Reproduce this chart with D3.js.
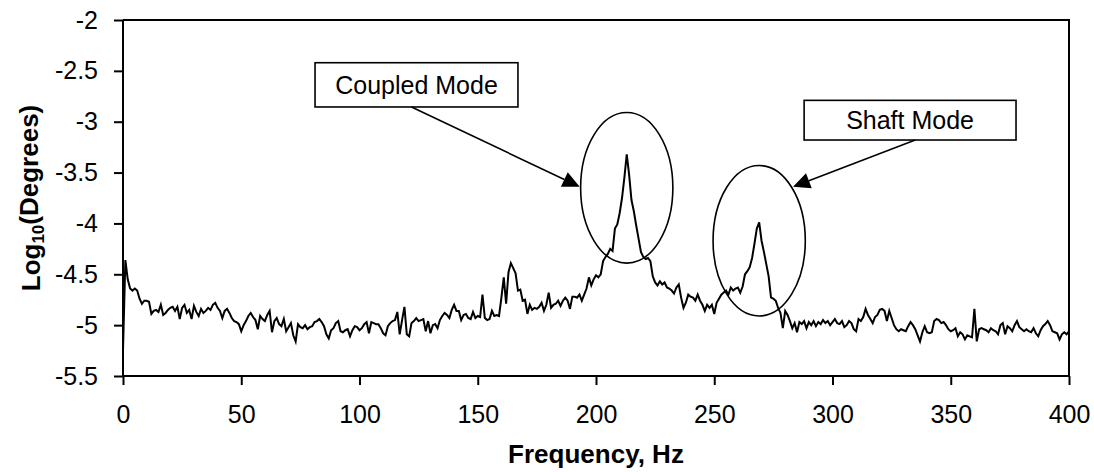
<!DOCTYPE html>
<html>
<head>
<meta charset="utf-8">
<script src="https://cdn.jsdelivr.net/npm/d3@7"></script>
<style>
  html, body { margin: 0; padding: 0; background: #fff; }
  svg text { font-family: "Liberation Sans", Arial, sans-serif; fill: #000; }
</style>
</head>
<body>
<svg id="chart" width="1094" height="472"></svg>
<script>
// Tick values for both axes
const xTickValues = [0, 50, 100, 150, 200, 250, 300, 350, 400];
const yTickValues = [-2, -2.5, -3, -3.5, -4, -4.5, -5, -5.5];

// Spectrum: log10 of angular amplitude (degrees), one sample per Hz from 0 to 400 Hz
const logDegrees = [
  -5.25, -4.36, -4.55, -4.64, -4.66, -4.64, -4.66, -4.74, -4.79, -4.76,
  -4.76, -4.77, -4.89, -4.86, -4.85, -4.87, -4.80, -4.90, -4.88, -4.85,
  -4.83, -4.82, -4.86, -4.82, -4.94, -4.83, -4.80, -4.88, -4.85, -4.94,
  -4.81, -4.87, -4.91, -4.84, -4.88, -4.86, -4.83, -4.85, -4.80, -4.78,
  -4.83, -4.86, -4.93, -4.86, -4.84, -4.88, -4.93, -4.96, -4.97, -4.99,
  -5.06, -5.00, -4.96, -4.91, -4.88, -4.92, -4.95, -5.04, -4.91, -4.94,
  -4.96, -4.90, -4.86, -5.07, -4.96, -4.93, -4.99, -5.01, -4.94, -5.06,
  -5.02, -4.98, -5.10, -5.16, -4.99, -5.02, -5.03, -5.00, -5.04, -5.02,
  -5.01, -4.97, -4.96, -4.94, -4.97, -5.01, -5.09, -5.13, -5.05, -5.03,
  -4.98, -4.96, -5.06, -5.07, -5.05, -5.04, -5.11, -5.05, -5.01, -5.02,
  -5.05, -5.03, -4.99, -4.97, -5.08, -4.97, -4.98, -4.99, -4.99, -5.03,
  -5.08, -5.10, -5.01, -4.98, -4.96, -4.95, -4.87, -5.09, -4.95, -4.82,
  -5.09, -5.11, -4.98, -4.96, -4.93, -4.96, -4.95, -4.94, -5.06, -4.96,
  -5.08, -5.00, -4.99, -5.03, -4.95, -4.91, -4.88, -4.90, -4.93, -4.85,
  -4.80, -4.86, -4.86, -4.95, -4.90, -4.89, -4.93, -4.94, -4.87, -4.93,
  -4.91, -4.92, -4.70, -4.93, -4.95, -4.94, -4.86, -4.91, -4.90, -4.91,
  -4.73, -4.53, -4.79, -4.48, -4.39, -4.44, -4.49, -4.66, -4.65, -4.76,
  -4.75, -4.89, -4.80, -4.85, -4.83, -4.84, -4.82, -4.78, -4.86, -4.80,
  -4.68, -4.83, -4.80, -4.79, -4.76, -4.81, -4.76, -4.73, -4.76, -4.84,
  -4.72, -4.72, -4.73, -4.70, -4.76, -4.70, -4.64, -4.53, -4.61, -4.55,
  -4.51, -4.53, -4.50, -4.37, -4.33, -4.30, -4.25, -4.27, -4.05, -4.01,
  -3.90, -3.75, -3.55, -3.32, -3.52, -3.77, -3.88, -4.02, -4.15, -4.28,
  -4.33, -4.35, -4.34, -4.37, -4.52, -4.58, -4.61, -4.57, -4.60, -4.58,
  -4.63, -4.64, -4.66, -4.69, -4.63, -4.60, -4.73, -4.83, -4.78, -4.70,
  -4.72, -4.73, -4.76, -4.70, -4.76, -4.80, -4.86, -4.80, -4.83, -4.80,
  -4.89, -4.78, -4.74, -4.70, -4.68, -4.66, -4.70, -4.63, -4.66, -4.64,
  -4.63, -4.68, -4.62, -4.50, -4.47, -4.43, -4.34, -4.20, -4.05, -3.99,
  -4.17, -4.28, -4.40, -4.52, -4.73, -4.74, -4.76, -4.83, -4.88, -5.03,
  -4.86, -4.90, -4.96, -5.03, -4.98, -5.07, -4.97, -4.99, -4.96, -5.03,
  -4.97, -5.00, -4.96, -5.01, -4.97, -4.99, -4.95, -4.98, -4.96, -5.00,
  -4.97, -4.94, -4.98, -4.99, -4.96, -5.02, -5.00, -4.96, -4.98, -5.04,
  -5.06, -4.94, -4.96, -4.92, -4.84, -4.90, -4.94, -4.98, -4.92, -4.90,
  -4.85, -4.84, -4.86, -4.96, -4.86, -4.93, -5.00, -5.04, -5.06, -5.04,
  -5.05, -5.06, -5.01, -4.97, -5.00, -5.04, -5.10, -5.16, -5.07, -5.01,
  -5.07, -5.08, -5.07, -4.96, -4.94, -4.95, -4.98, -4.97, -5.00, -5.04,
  -5.06, -5.05, -5.03, -5.11, -5.07, -5.09, -5.14, -5.10, -5.11, -5.12,
  -4.84, -5.16, -5.04, -5.03, -5.04, -5.05, -5.07, -5.03, -5.05, -5.06,
  -5.09, -5.00, -4.98, -5.09, -5.01, -5.03, -5.06, -5.00, -4.96, -5.02,
  -5.04, -5.06, -5.04, -5.06, -5.07, -5.03, -5.08, -5.11, -5.05, -5.01,
  -4.99, -4.96, -5.00, -5.06, -5.07, -5.08, -5.14, -5.09, -5.07, -5.09,
  -5.06
];

// Callout text and the resonance each one points at (in data units)
const calloutLabels = ["Coupled Mode", "Shaft Mode"];
const modeFrequencies = [213, 269];

const width = 1094, height = 472;
const margin = { top: 20, right: 25, bottom: 96, left: 123 };

const svg = d3.select("#chart");

const x = d3.scaleLinear().domain([0, 400]).range([margin.left, width - margin.right]);
const y = d3.scaleLinear().domain([-5.5, -2]).range([height - margin.bottom, margin.top]);

// Plot frame (top and right edges)
svg.append("path")
  .attr("d", `M${x(0)},${y(-2)}H${x(400)}V${y(-5.5)}`)
  .attr("fill", "none").attr("stroke", "#000").attr("stroke-width", 2);

// Axes
const xAxis = d3.axisBottom(x).tickValues(xTickValues).tickSize(9).tickPadding(20)
  .tickFormat(d => String(d));
const yAxis = d3.axisLeft(y).tickValues(yTickValues).tickSize(9).tickPadding(16)
  .tickFormat(d => String(d));

const gx = svg.append("g").attr("transform", `translate(0,${y(-5.5)})`).call(xAxis);
const gy = svg.append("g").attr("transform", `translate(${x(0)},0)`).call(yAxis);

[gx, gy].forEach(g => {
  g.select(".domain").attr("stroke", "#000").attr("stroke-width", 2)
    .attr("d", g === gx ? `M${x(0)},0H${x(400)}` : `M0,${y(-2)}V${y(-5.5)}`);
  g.selectAll(".tick line").attr("stroke", "#000").attr("stroke-width", 2);
  g.selectAll(".tick text").attr("font-size", 25)
    .attr("font-family", "'Liberation Sans', Arial, sans-serif").attr("fill", "#000");
});

// Spectrum line
const line = d3.line()
  .x((d, i) => x(i))
  .y(d => y(d));

svg.append("path")
  .datum(logDegrees)
  .attr("fill", "none")
  .attr("stroke", "#000")
  .attr("stroke-width", 2)
  .attr("stroke-linejoin", "miter")
  .attr("d", line);

// Ellipses around the two resonances
const ellipseSpecs = [
  { cx: modeFrequencies[0], cy: -3.65, rx: 19.5, ry: 0.74 },
  { cx: modeFrequencies[1], cy: -4.17, rx: 19.5, ry: 0.74 }
];
svg.append("g").selectAll("ellipse").data(ellipseSpecs).join("ellipse")
  .attr("cx", d => x(d.cx))
  .attr("cy", d => y(d.cy))
  .attr("rx", d => x(d.rx) - x(0))
  .attr("ry", d => y(-5.5 + 0) - y(-5.5 + d.ry))
  .attr("fill", "none").attr("stroke", "#000").attr("stroke-width", 1.6);

// Callout boxes with arrows
const boxSpecs = [
  { x0: 81.2, x1: 167, y0: -2.42, y1: -2.855, from: [122, -2.855], to: [193.1, -3.64] },
  { x0: 288, x1: 377.6, y0: -2.79, y1: -3.18, from: [335, -3.18], to: [283.3, -3.64] }
];

const callouts = svg.append("g").selectAll("g").data(boxSpecs).join("g");

callouts.append("rect")
  .attr("x", d => x(d.x0)).attr("y", d => y(d.y0))
  .attr("width", d => x(d.x1) - x(d.x0)).attr("height", d => y(d.y1) - y(d.y0))
  .attr("fill", "#fff").attr("stroke", "#000").attr("stroke-width", 1.6);

callouts.append("text")
  .attr("x", d => (x(d.x0) + x(d.x1)) / 2)
  .attr("y", d => (y(d.y0) + y(d.y1)) / 2)
  .attr("dy", "0.36em")
  .attr("text-anchor", "middle")
  .attr("font-size", 25)
  .text((d, i) => calloutLabels[i]);

callouts.each(function(d) {
  const g = d3.select(this);
  const sx = x(d.from[0]), sy = y(d.from[1]);
  const tx = x(d.to[0]), ty = y(d.to[1]);
  const ang = Math.atan2(ty - sy, tx - sx);
  const headLen = 17, headHalf = 8;
  const bx = tx - headLen * Math.cos(ang), by = ty - headLen * Math.sin(ang);
  g.append("line")
    .attr("x1", sx).attr("y1", sy).attr("x2", bx).attr("y2", by)
    .attr("stroke", "#000").attr("stroke-width", 1.6);
  const px = -Math.sin(ang) * headHalf, py = Math.cos(ang) * headHalf;
  g.append("polygon")
    .attr("points", `${tx},${ty} ${bx + px},${by + py} ${bx - px},${by - py}`)
    .attr("fill", "#000");
});

// Axis titles
svg.append("text")
  .attr("x", (x(0) + x(400)) / 2)
  .attr("y", 463)
  .attr("text-anchor", "middle")
  .attr("font-size", 26)
  .attr("font-weight", "bold")
  .text("Frequency, Hz");

const yTitle = svg.append("text")
  .attr("transform", `translate(40,${(y(-2) + y(-5.5)) / 2}) rotate(-90)`)
  .attr("text-anchor", "middle")
  .attr("font-size", 26)
  .attr("font-weight", "bold");
yTitle.append("tspan").text("Log");
yTitle.append("tspan").attr("font-size", 17).attr("dy", "0.25em").text("10");
yTitle.append("tspan").attr("dy", "-0.25em").text("(Degrees)");
</script>
</body>
</html>
